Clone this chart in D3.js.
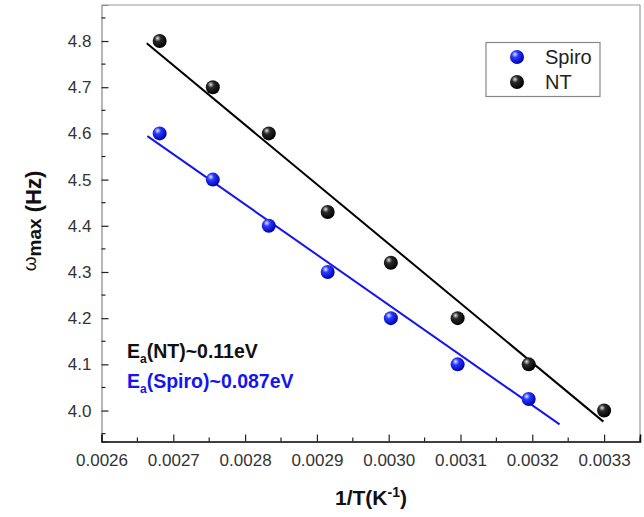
<!DOCTYPE html>
<html>
<head>
<meta charset="utf-8">
<script src="https://cdn.jsdelivr.net/npm/d3@7/dist/d3.min.js"></script>
<style>
  html, body { margin: 0; padding: 0; background: #fff; }
  svg { display: block; font-family: "Liberation Sans", Arial, sans-serif; }
</style>
</head>
<body>
<svg id="chart" width="644" height="517"></svg>
<script>
// ---- data ----
const invT = [0.002681, 0.002755, 0.002833, 0.002915, 0.003003, 0.003096, 0.003195, 0.003300];
const ntValues = [4.80, 4.70, 4.60, 4.43, 4.32, 4.20, 4.10, 4.00];
const spiroValues = [4.60, 4.50, 4.40, 4.30, 4.20, 4.10, 4.025];
const fitNTx = [0.002663, 0.003299];
const fitNTy = [4.795, 3.976];
const fitSpiroX = [0.002664, 0.003238];
const fitSpiroY = [4.594, 3.970];
const xTicks = [0.0026, 0.0027, 0.0028, 0.0029, 0.0030, 0.0031, 0.0032, 0.0033];
const yTicks = [4.0, 4.1, 4.2, 4.3, 4.4, 4.5, 4.6, 4.7, 4.8];
const seriesNames = ["Spiro", "NT"];
const annotations = ["(NT)~0.11eV", "(Spiro)~0.087eV"];

// ---- layout ----
const svg = d3.select("#chart");
const L = 101.5, R = 640, T = 5, B = 441.5;
const x = d3.scaleLinear().domain([0.0026, 0.00335]).range([L, R]);
const y = d3.scaleLinear().domain([3.933, 4.878]).range([B, T]);
const blue = "#1515f0";

// gradients for spheres
const defs = svg.append("defs");
function sphere(id, c0, c1, c2) {
  const g = defs.append("radialGradient").attr("id", id)
    .attr("cx", "38%").attr("cy", "35%").attr("r", "65%").attr("fx", "35%").attr("fy", "30%");
  g.append("stop").attr("offset", "0%").attr("stop-color", c0);
  g.append("stop").attr("offset", "35%").attr("stop-color", c1);
  g.append("stop").attr("offset", "100%").attr("stop-color", c2);
}
sphere("gBlue", "#e8ecff", "#2a3aff", "#0000b0");
sphere("gBlack", "#e0e0e0", "#2a2a2a", "#000000");

// frame
svg.append("line").attr("x1", L).attr("x2", R).attr("y1", T).attr("y2", T).attr("stroke", "#999").attr("stroke-width", 1.2);
svg.append("line").attr("x1", R).attr("x2", R).attr("y1", T).attr("y2", B).attr("stroke", "#999").attr("stroke-width", 1.2);

// axes
const minorY = d3.range(3.95, 4.88, 0.1);
const minorX = d3.range(0.00265, 0.00336, 0.0001);

const yAxis = svg.append("g").attr("transform", `translate(${L},0)`)
  .call(d3.axisRight(y).tickValues(yTicks).tickSize(7).tickFormat(d3.format(".1f")));
yAxis.select(".domain").attr("stroke", "#888").attr("stroke-width", 1.2);
yAxis.selectAll(".tick line").attr("stroke", "#222").attr("stroke-width", 1.2);
yAxis.selectAll(".tick text").attr("x", -10).attr("text-anchor", "end")
  .attr("font-size", 17).attr("fill", "#333").attr("font-family", "Liberation Sans, Arial, sans-serif");
yAxis.selectAll(".minor").data(minorY).enter().append("line")
  .attr("x1", 0).attr("x2", 4).attr("y1", d => y(d)).attr("y2", d => y(d))
  .attr("stroke", "#222").attr("stroke-width", 1.2);

const xAxis = svg.append("g").attr("transform", `translate(0,${B})`)
  .call(d3.axisTop(x).tickValues(xTicks).tickSize(7).tickFormat(d3.format(".4f")));
xAxis.select(".domain").attr("stroke", "#000").attr("stroke-width", 1.5);
xAxis.selectAll(".tick line").attr("stroke", "#222").attr("stroke-width", 1.2);
xAxis.selectAll(".tick text").attr("y", 24).attr("dy", 0)
  .attr("font-size", 17).attr("fill", "#333").attr("font-family", "Liberation Sans, Arial, sans-serif");
xAxis.selectAll(".minor").data(minorX).enter().append("line")
  .attr("x1", d => x(d)).attr("x2", d => x(d)).attr("y1", 0).attr("y2", -4)
  .attr("stroke", "#222").attr("stroke-width", 1.2);

// fitted lines
const line = d3.line().x(d => x(d[0])).y(d => y(d[1]));
svg.append("path").attr("d", line(d3.zip(fitNTx, fitNTy)))
  .attr("stroke", "#000").attr("stroke-width", 2).attr("fill", "none");
svg.append("path").attr("d", line(d3.zip(fitSpiroX, fitSpiroY)))
  .attr("stroke", blue).attr("stroke-width", 2).attr("fill", "none");

// points
svg.append("g").selectAll("circle").data(spiroValues).enter().append("circle")
  .attr("cx", (d, i) => x(invT[i])).attr("cy", d => y(d)).attr("r", 7).attr("fill", "url(#gBlue)");
svg.append("g").selectAll("circle").data(ntValues).enter().append("circle")
  .attr("cx", (d, i) => x(invT[i])).attr("cy", d => y(d)).attr("r", 7).attr("fill", "url(#gBlack)");

// legend
const lg = svg.append("g");
lg.append("rect").attr("x", 486).attr("y", 42.5).attr("width", 114).attr("height", 54)
  .attr("fill", "#fff").attr("stroke", "#888").attr("stroke-width", 1.2);
const lgFill = ["url(#gBlue)", "url(#gBlack)"];
seriesNames.forEach((name, i) => {
  const cy = 57 + i * 25;
  lg.append("circle").attr("cx", 517).attr("cy", cy).attr("r", 7).attr("fill", lgFill[i]);
  lg.append("text").attr("x", 545).attr("y", cy + 7).attr("font-size", 20).attr("fill", "#222").text(name);
});

// annotations
const annColors = ["#111", blue];
annotations.forEach((t, i) => {
  const tx = svg.append("text").attr("x", 127).attr("y", 358 + i * 30)
    .attr("font-size", 19.5).attr("font-weight", "bold").attr("fill", annColors[i]);
  tx.append("tspan").text("E");
  tx.append("tspan").attr("font-size", 12).attr("dy", 5).text("a");
  tx.append("tspan").attr("dy", -5).text(t);
});

// axis titles
const xt = svg.append("text").attr("x", 371).attr("y", 505).attr("text-anchor", "middle")
  .attr("font-size", 21).attr("font-weight", "bold").attr("fill", "#111");
xt.append("tspan").text("1/T(K");
xt.append("tspan").attr("font-size", 14).attr("dy", -8).text("-1");
xt.append("tspan").attr("dy", 8).text(")");

const yt = svg.append("text").attr("transform", "translate(41,221) rotate(-90)")
  .attr("text-anchor", "middle").attr("font-size", 22).attr("font-weight", "bold").attr("fill", "#111");
yt.append("tspan").attr("font-size", 19).attr("font-weight", "normal").attr("dy", -5).text("ω");
yt.append("tspan").attr("font-size", 19).attr("dy", 5).text("max");
yt.append("tspan").text(" (Hz)");
</script>
</body>
</html>
